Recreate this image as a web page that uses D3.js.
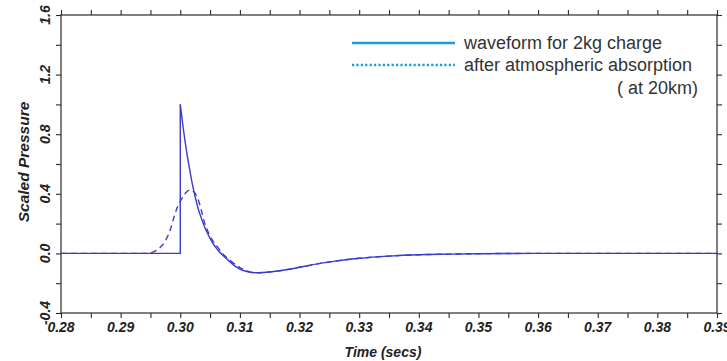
<!DOCTYPE html>
<html>
<head>
<meta charset="utf-8">
<script src="https://cdn.jsdelivr.net/npm/d3@7"></script>
<style>
  html, body { margin: 0; padding: 0; background: #fff; }
  svg { display: block; }
</style>
</head>
<body>
<svg id="chart" width="727" height="361"></svg>
<script>
// Pressure pulse of a 2 kg charge, before and after atmospheric absorption
const timeTicks = [0.28, 0.29, 0.30, 0.31, 0.32, 0.33, 0.34, 0.35, 0.36, 0.37, 0.38, 0.39];
const pressureTicks = [-0.4, 0.0, 0.4, 0.8, 1.2, 1.6];

// Source waveform: flat until arrival, instant jump, then decay and negative phase
const sourceTime = [0.2800, 0.3000];
const sourceValue = [0.000, 0.000];
const decayTime = [0.3000, 0.3005, 0.3010, 0.3015, 0.3020, 0.3025, 0.3030, 0.3035, 0.3040, 0.3045,
  0.3050, 0.3055, 0.3060, 0.3065, 0.3070, 0.3080, 0.3090, 0.3100, 0.3110, 0.3120, 0.3130, 0.3140,
  0.3160, 0.3180, 0.3200, 0.3230, 0.3260, 0.3300, 0.3350, 0.3400, 0.3450, 0.3500, 0.3600, 0.3900];
const decayValue = [1.000, 0.840, 0.700, 0.580, 0.470, 0.380, 0.300, 0.240, 0.185, 0.140,
  0.100, 0.065, 0.037, 0.013, -0.008, -0.045, -0.080, -0.105, -0.120, -0.128, -0.130, -0.128,
  -0.120, -0.108, -0.093, -0.070, -0.052, -0.033, -0.018, -0.009, -0.005, -0.002, 0.000, 0.000];

// Waveform after absorption over 20 km
const absorbedTime = [0.2800, 0.2945, 0.2955, 0.2965, 0.2975, 0.2983, 0.2990, 0.2996, 0.3003, 0.3010,
  0.3016, 0.3022, 0.3029, 0.3035, 0.3040, 0.3045, 0.3050, 0.3057, 0.3063, 0.3070, 0.3077, 0.3085,
  0.3100, 0.3115, 0.3130, 0.3140, 0.3160, 0.3180, 0.3200, 0.3230, 0.3260, 0.3300, 0.3350, 0.3400,
  0.3450, 0.3500, 0.3600, 0.3900];
const absorbedValue = [0.000, 0.000, 0.010, 0.035, 0.085, 0.155, 0.250, 0.320, 0.370, 0.410,
  0.425, 0.415, 0.372, 0.295, 0.215, 0.160, 0.115, 0.070, 0.040, 0.003, -0.025, -0.052,
  -0.095, -0.122, -0.130, -0.128, -0.120, -0.108, -0.093, -0.070, -0.052, -0.033, -0.018, -0.009,
  -0.005, -0.002, 0.000, 0.000];

const legendLabels = ["waveform for 2kg charge", "after atmospheric absorption", "( at 20km)"];

const W = 727, H = 361;
const m = { left: 61, right: 10, top: 15, bottom: 48 };
const svg = d3.select("#chart");

const x = d3.scaleLinear().domain([0.28, 0.39]).range([m.left, W - m.right]);
const y = d3.scaleLinear().domain([-0.4, 1.6]).range([H - m.bottom, m.top]);

const axisColor = "#2a2a2a";
const curveColor = "#3b3bcc";
const legendColor = "#1f9ad8";
const tickFont = "'Liberation Sans', Arial, sans-serif";

const minorX = d3.range(0, 23).map(i => 0.28 + i * 0.005);
const minorY = d3.range(0, 11).map(i => -0.4 + i * 0.2);

function styleAxis(g) {
  g.select(".domain").remove();
  g.selectAll(".tick line").attr("stroke", axisColor).attr("stroke-width", 1.1);
}

// Ticks on all four sides, pointing outwards
svg.append("g").attr("transform", `translate(0,${y(-0.4)})`)
  .call(d3.axisBottom(x).tickValues(minorX).tickSize(5).tickFormat(""))
  .call(styleAxis);
svg.append("g").attr("transform", `translate(0,${y(1.6)})`)
  .call(d3.axisTop(x).tickValues(minorX).tickSize(5).tickFormat(""))
  .call(styleAxis);
svg.append("g").attr("transform", `translate(${x(0.28)},0)`)
  .call(d3.axisLeft(y).tickValues(minorY).tickSize(5).tickFormat(""))
  .call(styleAxis);
svg.append("g").attr("transform", `translate(${x(0.39)},0)`)
  .call(d3.axisRight(y).tickValues(minorY).tickSize(5).tickFormat(""))
  .call(styleAxis);

// Frame
svg.append("rect")
  .attr("x", x(0.28)).attr("y", y(1.6))
  .attr("width", x(0.39) - x(0.28)).attr("height", y(-0.4) - y(1.6))
  .attr("fill", "none").attr("stroke", axisColor).attr("stroke-width", 1.2);

// Tick labels
svg.append("g").selectAll("text").data(timeTicks).join("text")
  .attr("x", d => x(d)).attr("y", H - m.bottom + 19)
  .attr("text-anchor", "middle")
  .attr("font-family", tickFont).attr("font-size", 14)
  .attr("font-weight", "bold").attr("font-style", "italic")
  .attr("fill", "#222")
  .text(d => d.toFixed(2));

svg.append("g").selectAll("text").data(pressureTicks).join("text")
  .attr("transform", d => `translate(45,${y(d)}) rotate(-90)`)
  .attr("text-anchor", "middle").attr("dominant-baseline", "central")
  .attr("font-family", tickFont).attr("font-size", 14)
  .attr("font-weight", "bold").attr("font-style", "italic")
  .attr("fill", "#222")
  .text(d => d.toFixed(1));

// Axis titles
svg.append("text")
  .attr("x", (x(0.28) + x(0.39)) / 2 - 6).attr("y", 357)
  .attr("text-anchor", "middle")
  .attr("font-family", tickFont).attr("font-size", 14)
  .attr("font-weight", "bold").attr("font-style", "italic")
  .attr("fill", "#222")
  .text("Time (secs)");

svg.append("text")
  .attr("transform", `translate(23,${(y(-0.4) + y(1.6)) / 2 - 2}) rotate(-90)`)
  .attr("text-anchor", "middle").attr("dominant-baseline", "central")
  .attr("font-family", tickFont).attr("font-size", 15.5)
  .attr("font-weight", "bold").attr("font-style", "italic")
  .attr("fill", "#222")
  .text("Scaled Pressure");

// Curves
const lineLinear = d3.line().x(d => x(d[0])).y(d => y(d[1]));
const lineSmooth = d3.line().x(d => x(d[0])).y(d => y(d[1])).curve(d3.curveMonotoneX);

const sourceFlat = sourceTime.map((t, i) => [t, sourceValue[i]]);
const decay = decayTime.map((t, i) => [t, decayValue[i]]);
const absorbed = absorbedTime.map((t, i) => [t, absorbedValue[i]]);

svg.append("path")
  .attr("d", lineSmooth(absorbed))
  .attr("fill", "none").attr("stroke", curveColor).attr("stroke-width", 1.4)
  .attr("stroke-dasharray", "6,4");

svg.append("path")
  .attr("d", lineLinear(sourceFlat.concat([decay[0]])))
  .attr("fill", "none").attr("stroke", curveColor).attr("stroke-width", 1.4);
svg.append("path")
  .attr("d", lineSmooth(decay))
  .attr("fill", "none").attr("stroke", curveColor).attr("stroke-width", 1.4);

// Legend
const lg = svg.append("g").attr("font-family", tickFont).attr("font-size", 18).attr("fill", "#333");
lg.append("line").attr("x1", 352).attr("x2", 455).attr("y1", 43).attr("y2", 43)
  .attr("stroke", legendColor).attr("stroke-width", 2.6);
lg.append("line").attr("x1", 352).attr("x2", 455).attr("y1", 65).attr("y2", 65)
  .attr("stroke", legendColor).attr("stroke-width", 2.6).attr("stroke-dasharray", "2.2,2.2");
lg.append("text").attr("x", 464).attr("y", 43).attr("dominant-baseline", "central").text(legendLabels[0]);
lg.append("text").attr("x", 464).attr("y", 65).attr("dominant-baseline", "central").text(legendLabels[1]);
lg.append("text").attr("x", 698).attr("y", 88).attr("text-anchor", "end")
  .attr("dominant-baseline", "central").text(legendLabels[2]);
</script>
</body>
</html>
